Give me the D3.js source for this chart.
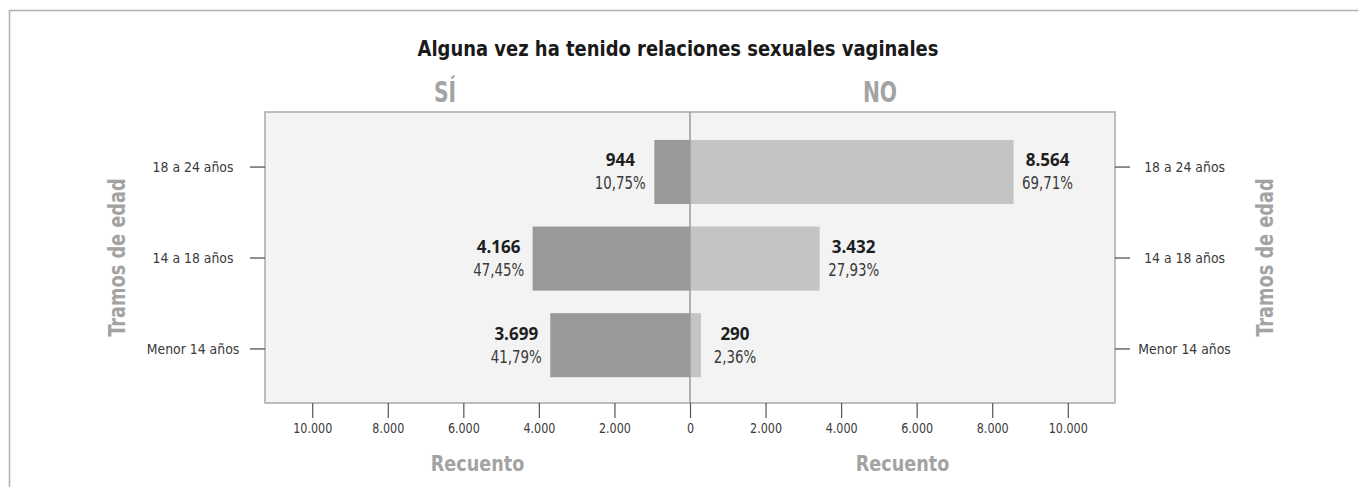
<!DOCTYPE html>
<html>
<head>
<meta charset="utf-8">
<script src="https://cdn.jsdelivr.net/npm/d3@7"></script>
<style>
  html, body { margin: 0; padding: 0; background: #fff; }
  svg { display: block; }
  .cond { font-family: "DejaVu Sans Condensed", "DejaVu Sans", sans-serif; font-stretch: condensed; }
</style>
</head>
<body>
<svg id="chart" width="1358" height="487"></svg>
<script>
// age bands, top to bottom
const ageGroups = ["18 a 24 años", "14 a 18 años", "Menor 14 años"];
const siCounts = [944, 4166, 3699];
const siPercents = [10.75, 47.45, 41.79];
const noCounts = [8564, 3432, 290];
const noPercents = [69.71, 27.93, 2.36];
const xTicks = [-10000, -8000, -6000, -4000, -2000, 0, 2000, 4000, 6000, 8000, 10000];

const title = "Alguna vez ha tenido relaciones sexuales vaginales";
const sideLabels = ["SÍ", "NO"];
const xTitle = "Recuento";
const yTitle = "Tramos de edad";

const SI_COLOR = "#999999";
const NO_COLOR = "#c4c4c4";
const GREY_TEXT = "#a3a3a3";

const es = d3.formatLocale({ decimal: ",", thousands: ".", grouping: [3], currency: ["", "€"] });
const fmtCount = es.format(",d");
const fmtPct = es.format(",.2f");

const svg = d3.select("#chart");

const panel = { left: 265, right: 1115, top: 112, bottom: 403 };

const x = d3.scaleLinear().domain([-11250, 11250]).range([panel.left, panel.right]);
const y = d3.scaleBand().domain(ageGroups).range([panel.top, panel.bottom])
  .paddingInner(0.26).paddingOuter(0.31).align(0.52);
// the axis ticks sit a bit off the bar centres, like in the original
const yAxisScale = d3.scalePoint().domain(ageGroups).range([panel.top, panel.bottom]).padding(0.6);

// the original font is a narrow one; squeeze DejaVu Condensed a little
function placeText(sel, px, py, sx, rot) {
  return sel.attr("transform", `translate(${px},${py})${rot ? ` rotate(${rot})` : ""} scale(${sx},1)`);
}

// outer frame (top + left only)
svg.append("path")
  .attr("d", `M9.5,487 V10.5 H1358`)
  .attr("fill", "none")
  .attr("stroke", "#b0b0b0")
  .attr("stroke-width", 1.5);

svg.append("text")
  .attr("class", "cond")
  .call(placeText, 678, 56, 0.95)
  .attr("text-anchor", "middle")
  .attr("font-weight", "bold")
  .attr("font-size", 21)
  .attr("fill", "#1a1a1a")
  .text(title);

svg.selectAll("text.side")
  .data(sideLabels)
  .join("text")
  .attr("class", "side cond")
  .each(function (d, i) { placeText(d3.select(this), i === 0 ? 445 : 880, 102, 0.82); })
  .attr("text-anchor", "middle")
  .attr("font-weight", "bold")
  .attr("font-size", 27.5)
  .attr("fill", GREY_TEXT)
  .text((d) => d);

// panel background
svg.append("rect")
  .attr("x", panel.left).attr("y", panel.top)
  .attr("width", panel.right - panel.left)
  .attr("height", panel.bottom - panel.top)
  .attr("fill", "#f3f3f3")
  .attr("stroke", "#a9a9a9")
  .attr("stroke-width", 1.5);

const rows = ageGroups.map((g, i) => ({
  group: g,
  si: siCounts[i], siPct: siPercents[i],
  no: noCounts[i], noPct: noPercents[i]
}));

const bars = svg.append("g");
bars.selectAll("rect.si")
  .data(rows)
  .join("rect")
  .attr("class", "si")
  .attr("x", (d) => x(-d.si))
  .attr("y", (d) => y(d.group))
  .attr("width", (d) => x(0) - x(-d.si))
  .attr("height", y.bandwidth())
  .attr("fill", SI_COLOR);

bars.selectAll("rect.no")
  .data(rows)
  .join("rect")
  .attr("class", "no")
  .attr("x", x(0))
  .attr("y", (d) => y(d.group))
  .attr("width", (d) => x(d.no) - x(0))
  .attr("height", y.bandwidth())
  .attr("fill", NO_COLOR);

// zero line
svg.append("line")
  .attr("x1", x(0)).attr("x2", x(0))
  .attr("y1", panel.top).attr("y2", panel.bottom)
  .attr("stroke", "#9a9a9a")
  .attr("stroke-width", 1.5);

// value labels
function addLabels(side) {
  const g = svg.append("g");
  const lab = g.selectAll("g")
    .data(rows)
    .join("g")
    .attr("transform", (d) => {
      const cx = side === "si" ? x(-d.si) - 34 : x(d.no) + 34;
      return `translate(${cx},${y(d.group) + y.bandwidth() / 2})`;
    });
  lab.append("text")
    .attr("y", -5.5)
    .attr("text-anchor", "middle")
    .attr("font-family", "'Open Sans', sans-serif")
    .attr("font-weight", "bold")
    .attr("font-size", 17)
    .attr("fill", "#1e1e1e")
    .text((d) => fmtCount(d[side]));
  lab.append("text")
    .attr("class", "cond")
    .call(placeText, 0, 17.5, 0.855)
    .attr("text-anchor", "middle")
    .attr("font-size", 17.4)
    .attr("fill", "#3a3a3a")
    .text((d) => fmtPct(d[side + "Pct"]) + "%");
}
addLabels("si");
addLabels("no");

// x axis
const xAxis = d3.axisBottom(x)
  .tickValues(xTicks)
  .tickSize(15)
  .tickPadding(5)
  .tickFormat((d) => fmtCount(Math.abs(d)));
const gx = svg.append("g")
  .attr("transform", `translate(0,${panel.bottom})`)
  .call(xAxis);
gx.select(".domain").remove();
gx.selectAll(".tick line").attr("stroke", "#555").attr("stroke-width", 1.2);
gx.selectAll(".tick text")
  .attr("class", "cond")
  .attr("transform", "scale(0.85,1)")
  .attr("font-size", 14.6)
  .attr("fill", "#3a3a3a");

// y axes (both sides)
const gyl = svg.append("g")
  .attr("transform", `translate(${panel.left},0)`)
  .call(d3.axisLeft(yAxisScale).tickSize(15));
const gyr = svg.append("g")
  .attr("transform", `translate(${panel.right},0)`)
  .call(d3.axisRight(yAxisScale).tickSize(15));
const ySx = 0.95;
[gyl, gyr].forEach((g, i) => {
  g.select(".domain").remove();
  g.selectAll(".tick line").attr("stroke", "#444").attr("stroke-width", 1.2);
  g.selectAll(".tick text")
    .attr("class", "cond")
    .attr("x", (i === 0 ? -72 : 69.6) / ySx)
    .attr("transform", `scale(${ySx},1)`)
    .attr("text-anchor", "middle")
    .attr("font-size", 14.6)
    .attr("fill", "#3a3a3a");
});

// axis titles
svg.selectAll("text.xtitle")
  .data([(panel.left + x(0)) / 2, (x(0) + panel.right) / 2])
  .join("text")
  .attr("class", "xtitle cond")
  .each(function (d) { placeText(d3.select(this), d, 471, 0.89); })
  .attr("text-anchor", "middle")
  .attr("font-weight", "bold")
  .attr("font-size", 22)
  .attr("fill", GREY_TEXT)
  .text(xTitle);

svg.selectAll("text.ytitle")
  .data([125, 1273])
  .join("text")
  .attr("class", "ytitle cond")
  .each(function (d) { placeText(d3.select(this), d, (panel.top + panel.bottom) / 2, 0.88, -90); })
  .attr("text-anchor", "middle")
  .attr("font-weight", "bold")
  .attr("font-size", 22.4)
  .attr("fill", GREY_TEXT)
  .text(yTitle);
</script>
</body>
</html>
